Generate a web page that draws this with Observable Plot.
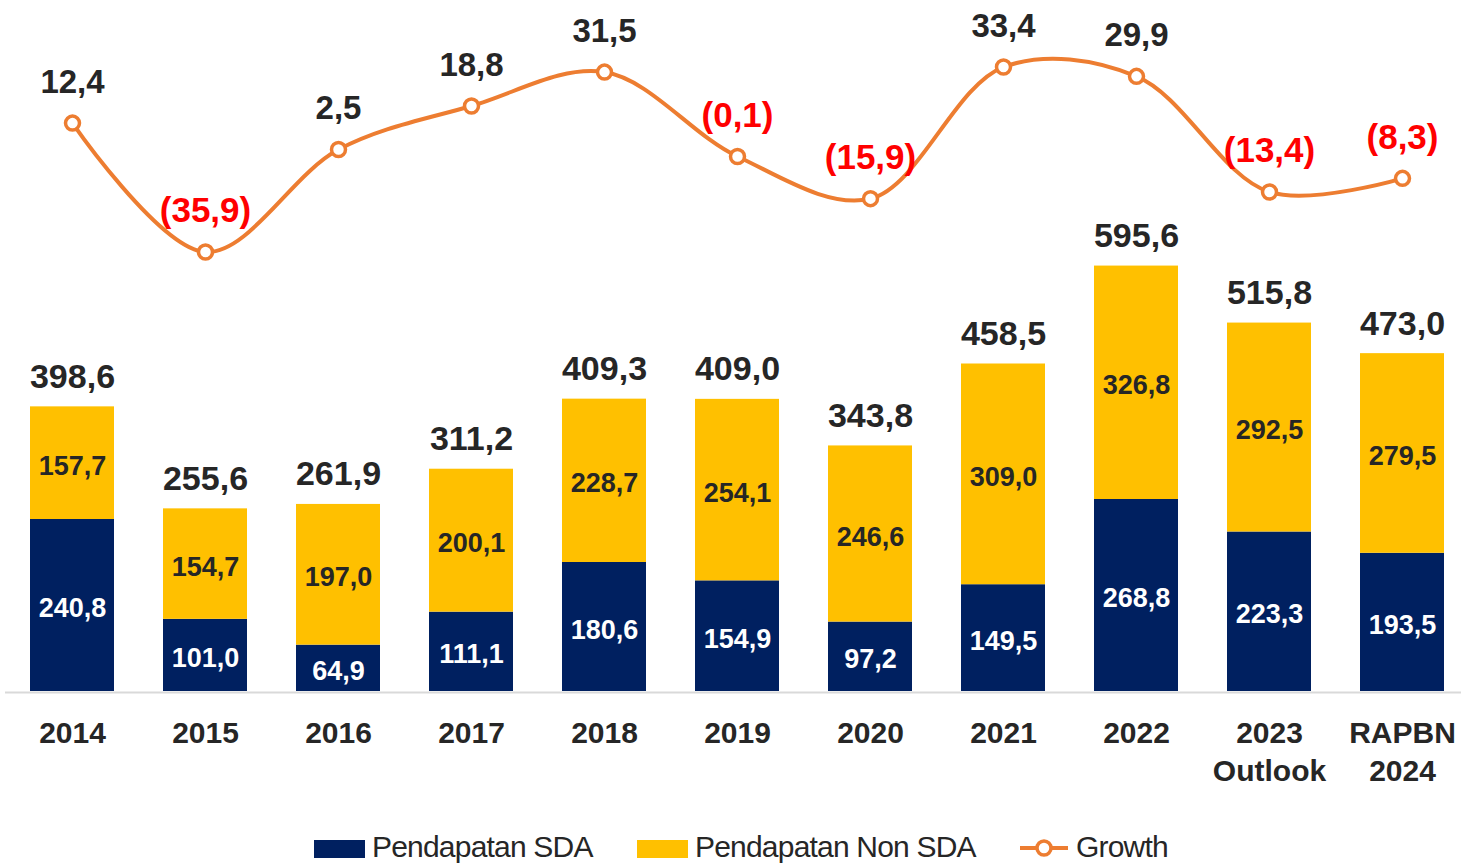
<!DOCTYPE html>
<html><head><meta charset="utf-8">
<script src="https://cdn.jsdelivr.net/npm/d3@7"></script>
<script src="https://cdn.jsdelivr.net/npm/@observablehq/plot@0.6"></script>
<style>
body{margin:0;background:#fff;font-family:"Liberation Sans",Arial,sans-serif;}
#wrap{position:relative;width:1461px;height:863px;overflow:hidden;background:#fff;}
#bars,#line{position:absolute;left:0;top:0;}
.lg{position:absolute;font-size:30px;color:#262626;letter-spacing:-0.8px;line-height:28px;white-space:nowrap;}
.sw{position:absolute;}
</style></head><body>
<div id="wrap"><div id="bars"></div><div id="line"></div><div id="legend"></div></div>
<script>
const categories = ["2014","2015","2016","2017","2018","2019","2020","2021","2022","2023\nOutlook","RAPBN\n2024"];
const sda = [240.8,101.0,64.9,111.1,180.6,154.9,97.2,149.5,268.8,223.3,193.5];
const nonSda = [157.7,154.7,197.0,200.1,228.7,254.1,246.6,309.0,326.8,292.5,279.5];
const total = [398.6,255.6,261.9,311.2,409.3,409.0,343.8,458.5,595.6,515.8,473.0];
const growth = [12.4,-35.9,2.5,18.8,31.5,-0.1,-15.9,33.4,29.9,-13.4,-8.3];
const seriesNames = ["Pendapatan SDA","Pendapatan Non SDA","Growth"];

const NAVY = "#002060", YELLOW = "#ffc000", ORANGE = "#ed7d31", DARK = "#262626";
const FONT = '"Liberation Sans", Arial, sans-serif';
const fmt = v => v.toFixed(1).replace(".", ",");

const rows = categories.map((c,i)=>({cat:c, sda:sda[i], non:nonSda[i], total:total[i], growth:growth[i]}));
const stackRows = [];
rows.forEach(r => {
  stackRows.push({cat:r.cat, series:seriesNames[0], value:r.sda});
  stackRows.push({cat:r.cat, series:seriesNames[1], value:r.non});
});

const xOpts = {type:"band", domain: categories, paddingInner: 0.37, paddingOuter: 0, axis: null};

const barPlot = Plot.plot({
  width:1461, height:800, marginLeft:28, marginRight:16, marginTop:191, marginBottom:109,
  x: xOpts,
  y: {domain:[0,700], axis:null},
  color: {domain:seriesNames.slice(0,2), range:[NAVY, YELLOW]},
  style: {fontFamily: FONT, background:"transparent", overflow:"visible"},
  marks: [
    Plot.ruleY([0], {stroke:"#d9d9d9", strokeWidth:2, insetLeft:-23, insetRight:-16, dy:1}),
    Plot.barY(stackRows, {x:"cat", y:"value", fill:"series"}),
    Plot.text(stackRows, Plot.stackY({x:"cat", y:"value", z:"series", text:d=>d.series===seriesNames[0]?fmt(d.value):"", fill:"white", fontSize:27, fontWeight:"bold", dy:3})),
    Plot.text(stackRows, Plot.stackY({x:"cat", y:"value", z:"series", text:d=>d.series===seriesNames[1]?fmt(d.value):"", fill:DARK, fontSize:27, fontWeight:"bold", dy:3})),
    Plot.text(rows, {x:"cat", y:"total", text:d=>fmt(d.total), dy:-30, fontSize:34, fontWeight:"bold", fill:DARK}),
    Plot.text(rows, {x:"cat", text:"cat", frameAnchor:"bottom", lineAnchor:"top", dy:24, lineHeight:1.27, fontSize:30, fontWeight:"bold", fill:DARK, ariaLabel:"xlabels"})
  ]
});
d3.select(barPlot).selectAll('g[aria-label="xlabels"] text').attr("letter-spacing", "-1.5");
document.getElementById("bars").appendChild(barPlot);

const linePlot = Plot.plot({
  width:1461, height:300, marginLeft:28, marginRight:16, marginTop:0, marginBottom:0,
  x: xOpts,
  y: {domain:[-40,40], range:[262.5,48.9], axis:null},
  style: {fontFamily: FONT, background:"transparent", overflow:"visible"},
  marks: [
    Plot.line(rows, {x:"cat", y:"growth", curve:"catmull-rom", stroke:ORANGE, strokeWidth:4}),
    Plot.dot(rows, {x:"cat", y:"growth", r:7, fill:"white", stroke:ORANGE, strokeWidth:3.5}),
    Plot.text(rows.filter(d=>d.growth>=0), {x:"cat", y:"growth", text:d=>fmt(d.growth), dy:-41, fill:DARK, fontSize:33, fontWeight:"bold", ariaLabel:"gpos"}),
    Plot.text(rows.filter(d=>d.growth<0), {x:"cat", y:"growth", text:d=>"("+fmt(-d.growth)+")", dy:-41, fill:"#ff0000", fontSize:35, fontWeight:"bold", ariaLabel:"gneg"})
  ]
});
d3.select(linePlot).selectAll('g[aria-label="gpos"] text').attr("letter-spacing", "-1.5");
document.getElementById("line").appendChild(linePlot);

// Legend
const lg = document.getElementById("legend");
const items = [
  {name:seriesNames[0], x:314, textX:372, type:"rect", color:NAVY},
  {name:seriesNames[1], x:637, textX:695, type:"rect", color:YELLOW},
  {name:seriesNames[2], x:1020, textX:1076, type:"line", color:ORANGE}
];
items.forEach(it => {
  if (it.type === "rect") {
    const s = document.createElement("div");
    s.className = "sw";
    Object.assign(s.style, {left:it.x+"px", top:"840px", width:"51px", height:"18px", background:it.color});
    lg.appendChild(s);
  } else {
    const svg = d3.create("svg").attr("width", 50).attr("height", 20)
      .style("position","absolute").style("left", it.x+"px").style("top","838px");
    svg.append("line").attr("x1",0).attr("x2",48).attr("y1",10).attr("y2",10).attr("stroke",it.color).attr("stroke-width",4);
    svg.append("circle").attr("cx",24).attr("cy",10).attr("r",7).attr("fill","white").attr("stroke",it.color).attr("stroke-width",3.5);
    lg.appendChild(svg.node());
  }
  const t = document.createElement("div");
  t.className = "lg";
  t.textContent = it.name;
  Object.assign(t.style, {left:it.textX+"px", top:"833px"});
  lg.appendChild(t);
});
</script>
</body></html>
